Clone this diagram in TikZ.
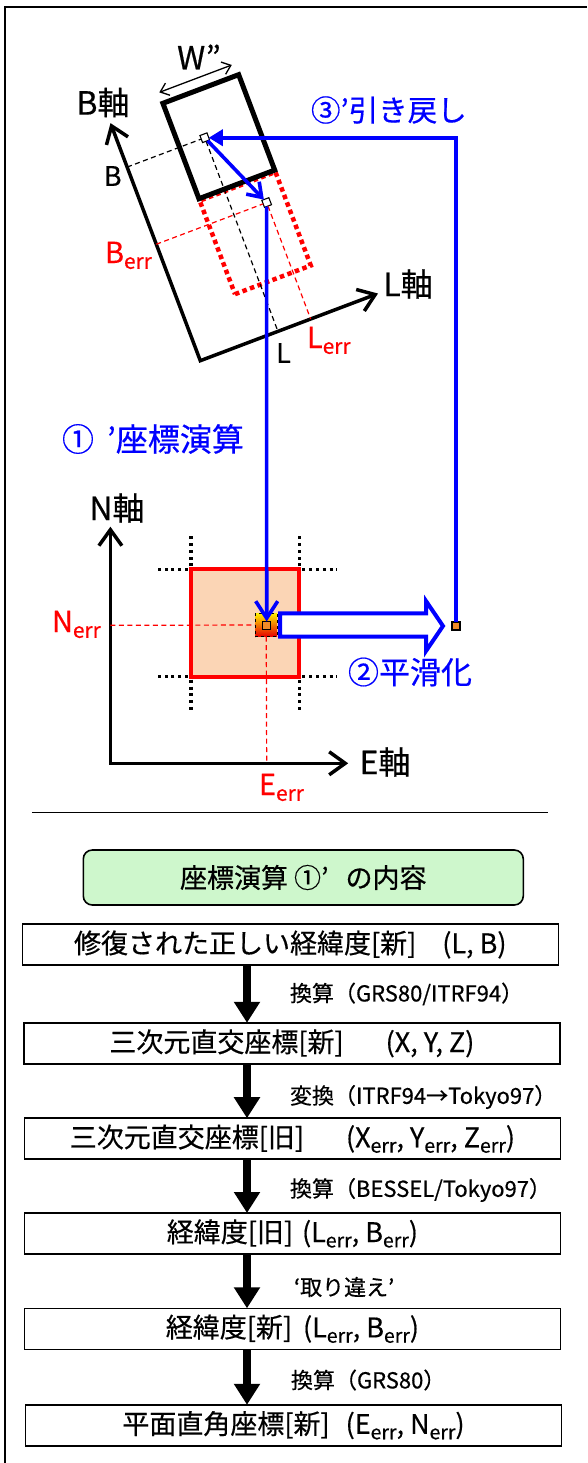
\documentclass[tikz,border=0pt]{standalone}
\usepackage{fontspec}
\setmainfont{Noto Sans CJK JP}[RawFeature={embolden=0.5}]
\usepackage{graphicx}
\usetikzlibrary{arrows.meta,calc}
\definecolor{myblue}{RGB}{0,0,255}
\definecolor{myred}{RGB}{255,0,0}
\definecolor{peach}{RGB}{251,213,181}
\definecolor{lgreen}{RGB}{206,247,204}
\definecolor{orsq}{RGB}{240,140,40}
\newcommand\errs{\raisebox{-0.2em}{\scalebox{0.72}{err}}}
\newcommand\fs[1]{\fontsize{#1}{#1}\selectfont}
\begin{document}
\begin{tikzpicture}[x=1pt,y=-1pt,
  every node/.style={inner sep=0pt,outer sep=0pt},
  axlab/.style={font=\fs{32}},
  smlab/.style={font=\fs{27}},
  errlab/.style={font=\fs{29},text=myred,anchor=base west},
  bluelab/.style={text=myblue,anchor=west},
  fbox/.style={draw,line width=1.6pt,minimum width=536pt,minimum height=41pt,font=\fs{27}},
  flab/.style={font=\fs{22},anchor=west},
  flow/.style={line width=8.5pt,-{Triangle[length=21pt,width=25pt]}},
  axis/.style={line width=3.5pt,{Straight Barb[length=16pt,width=23pt]}-{Straight Barb[length=16pt,width=23pt]}},
  blueline/.style={draw=myblue,line width=3.6pt},
  wsq/.style={draw,fill=white,line width=1.1pt,minimum size=7.5pt,rotate=20.7},
  osq/.style={draw,fill=orsq,line width=1.1pt,minimum size=8pt},
  dotline/.style={line width=3.2pt,dash pattern=on 3pt off 3.8pt},
  blkdash/.style={line width=1.2pt,dash pattern=on 5pt off 3.5pt},
  reddash/.style={draw=myred,line width=1.2pt,dash pattern=on 5pt off 3.5pt},
]
\useasboundingbox (0,0) rectangle (587,1463);
\draw[line width=2pt] (5,1463) -- (5,7) -- (587,7);

% ---------- rotated L-B frame ----------
\begin{scope}[shift={(200.3,360.7)},x={(0.9354pt,0.3535pt)},y={(-0.3535pt,0.9354pt)}]
  \coordinate (Btip) at (0,254);
  \coordinate (O) at (0,0);
  \coordinate (Ltip) at (190,0);
  \coordinate (Bp) at (0,207);
  \coordinate (Lp) at (83,0);
  \coordinate (Bep) at (0,124.5);
  \coordinate (Lep) at (118,0);
  \coordinate (W1) at (56.5,265.5);
  \coordinate (W2) at (134,265.5);
  \draw[axis] (Btip) -- (O) -- (Ltip);
  \draw[myred,line width=4.5pt,dash pattern=on 4.5pt off 3.5pt] (56,50) -- (137,50) -- (137,150) -- (56,150) -- cycle;
  \draw[line width=5pt] (56,152) -- (137,152) -- (137,254) -- (56,254) -- cycle;
  \draw[line width=1.3pt,{Straight Barb[length=8pt,width=13pt]}-{Straight Barb[length=8pt,width=13pt]}] (W1) -- (W2);
  \node[wsq] (A) at (83,207) {};
  \node[wsq] (C) at (118,124.5) {};
\end{scope}
\draw[blkdash] (Bp) -- (A);
\draw[blkdash] (A) -- (Lp);
\draw[reddash] (Bep) -- (C);
\draw[reddash] (C) -- (Lep);
\draw[blueline,-{Straight Barb[length=13pt,width=18pt]}] (A) -- (C);

\node[axlab] (Blab) at (103,102.5) {B軸};
\node[smlab] (Bl) at (112.7,176) {B};
\node[errlab] (Berrl) at (105,263) {B\errs};
\node[axlab] (Llab) at (408,284) {L軸};
\node[smlab] (Ll) at (283.5,353) {L};
\node[errlab] (Lerrl) at (307,348) {L\errs};
\node[axlab] (Wl) at (199,57) {W”};
\node[bluelab,font=\fs{29.5}] (s3) at (311,110) {③’引き戻し};
\node[bluelab,font=\fs{32}] (s1) at (62,439) {①\hspace{13pt}’座標演算};
\node[bluelab,font=\fs{31}] (s2) at (348,672) {②平滑化};

% ---------- N-E plot ----------
\coordinate (NO) at (110.4,763.3);
\coordinate (Ntip) at (110.4,526.7);
\coordinate (Etip) at (348.2,763.3);
\coordinate (Nep) at (110.4,625.3);
\coordinate (Eep) at (266.7,763.3);
\node[draw=myred,fill=peach,line width=4pt,minimum width=108.5pt,minimum height=107.4pt] (R) at (245.2,623) {};
\draw[dotline] (R.north west) ++(0,-3) -- ++(0,-31);
\draw[dotline] (R.north west) ++(-3,0) -- ++(-33,0);
\draw[dotline] (R.north east) ++(0,-3) -- ++(0,-31);
\draw[dotline] (R.north east) ++(3,0) -- ++(35,0);
\draw[dotline] (R.south west) ++(0,3) -- ++(0,32);
\draw[dotline] (R.south west) ++(-3,0) -- ++(-33,0);
\draw[dotline] (R.south east) ++(0,3) -- ++(0,32);
\draw[dotline] (R.south east) ++(3,0) -- ++(35,0);
\draw[axis] (Ntip) -- (NO) -- (Etip);
\node[draw,dashed,line width=1pt,top color=yellow!85!orange,bottom color=red!90!black,minimum width=22pt,minimum height=23pt] (G) at (266.2,625) {};
\draw[reddash] (Nep) -- (G);
\draw[reddash] (G) -- (Eep);
\node[osq] (Q) at (266.7,625.5) {};
\node[osq] (Rq) at (456,626) {};
\draw[myblue,line width=4pt,fill=white,line join=miter] (280,613.3) -- (426,613.3) -- (426,601) -- (443,626) -- (426,651) -- (426,636.7) -- (280,636.7) -- cycle;
\draw[blueline,-{Straight Barb[length=17pt,width=22pt]}] (C) -- (Q);
\draw[blueline,-{Triangle[length=14pt,width=16pt]}] (Rq) |- (A);

\node[axlab] (Nlab) at (117,508) {N軸};
\node[axlab] (Elab) at (385,762) {E軸};
\node[errlab] (Nerrl) at (52,632) {N\errs};
\node[errlab] (Eerrl) at (259,795) {E\errs};

% ---------- separator ----------
\coordinate (S1) at (31.8,812.3);
\coordinate (S2) at (547.7,812.3);
\draw[line width=1.5pt] (S1) -- (S2);

% ---------- flow ----------
\node[fbox,fill=lgreen,rounded corners=9pt,minimum width=440pt,minimum height=55pt,font=\fs{27}] (T) at (303.3,877.5) {座標演算 ①’\hspace{17pt}の内容};
\node[fbox] (F1) at (290.3,944.5) {修復された正しい経緯度[新]\hspace{26pt}(L, B)};
\node[fbox] (F2) at (291.9,1043.3) {三次元直交座標[新]\hspace{42pt}(X, Y, Z)};
\node[fbox] (F3) at (292.4,1138.7) {三次元直交座標[旧]\hspace{42pt}(X\errs, Y\errs, Z\errs)};
\node[fbox] (F4) at (292.4,1233.5) {経緯度[旧]\hspace{9pt}(L\errs, B\errs)};
\node[fbox] (F5) at (292.4,1328.8) {経緯度[新]\hspace{11pt}(L\errs, B\errs)};
\node[fbox] (F6) at (293.5,1425.3) {平面直角座標[新]\hspace{16pt}(E\errs, N\errs)};

\draw[flow] (F1.south -| 247,0) -- (F2.north -| 247,0);
\draw[flow] (F2.south -| 247,0) -- (F3.north -| 247,0);
\draw[flow] (F3.south -| 247,0) -- (F4.north -| 247,0);
\draw[flow] (F4.south -| 247,0) -- (F5.north -| 247,0);
\draw[flow] (F5.south -| 247,0) -- (F6.north -| 247,0);

\node[flab] (a1) at (290,994) {換算（GRS80/ITRF94）};
\node[flab] (a2) at (290,1097) {変換（ITRF94→Tokyo97）};
\node[flab] (a3) at (290,1190) {換算（BESSEL/Tokyo97）};
\node[flab] (a4) at (294,1287) {‘取り違え’};
\node[flab] (a5) at (291,1380) {換算（GRS80）};
\end{tikzpicture}
\end{document}
